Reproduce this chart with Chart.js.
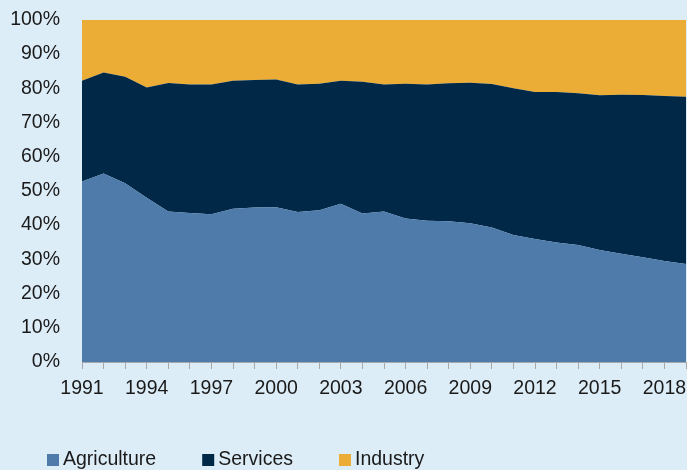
<!DOCTYPE html>
<html>
<head>
<meta charset="utf-8">
<script src="https://cdn.jsdelivr.net/npm/chart.js@4/dist/chart.umd.min.js"></script>
<style>
  html, body { margin: 0; padding: 0; background: #ddedf7; }
  #wrap { width: 687px; height: 470px; position: relative; }
</style>
</head>
<body>
<div id="wrap"><canvas id="c" width="687" height="470"></canvas></div>
<script>
const years = [1991,1992,1993,1994,1995,1996,1997,1998,1999,2000,2001,2002,2003,2004,2005,2006,2007,2008,2009,2010,2011,2012,2013,2014,2015,2016,2017,2018,2019];
const agriculture = [52.7,55.1,52.2,48.0,44.0,43.5,43.2,44.8,45.1,45.2,43.8,44.3,46.2,43.4,44.0,41.9,41.3,41.1,40.5,39.3,37.1,35.9,34.9,34.2,32.7,31.6,30.6,29.5,28.6];
const services = [29.5,29.5,31.1,32.2,37.5,37.6,37.9,37.4,37.3,37.3,37.3,37.0,36.0,38.5,37.1,39.4,39.8,40.3,41.1,41.9,42.9,43.0,44.0,44.3,45.2,46.5,47.4,48.2,48.9];
const industry = [17.8,15.4,16.7,19.8,18.5,18.9,18.9,17.8,17.6,17.5,18.9,18.7,17.8,18.1,18.9,18.7,18.9,18.6,18.4,18.8,20.0,21.1,21.1,21.5,22.1,21.9,22.0,22.3,22.5];
const yTicks = [0,10,20,30,40,50,60,70,80,90,100];

const FONT = { family: "'Liberation Sans', Arial, Helvetica, sans-serif", size: 19.5 };
const TEXT = '#1a1a1a';
const AXIS = '#a8a8a8';

const legendPlugin = {
  id: 'customLegend',
  afterDraw(chart) {
    const ctx = chart.ctx;
    ctx.save();
    ctx.font = FONT.size + 'px ' + FONT.family;
    ctx.textBaseline = 'middle';
    let x = 47;
    const yMid = 460;
    chart.data.datasets.forEach(ds => {
      ctx.fillStyle = ds.backgroundColor;
      ctx.fillRect(x, yMid - 6, 12, 12);
      ctx.fillStyle = TEXT;
      ctx.fillText(ds.label, x + 16, yMid);
      x += 16 + ctx.measureText(ds.label).width + 46;
    });
    ctx.restore();
  }
};

new Chart(document.getElementById('c'), {
  type: 'line',
  data: {
    labels: years.map(String),
    datasets: [
      { label: 'Agriculture', data: agriculture, backgroundColor: '#4f7bab', borderWidth: 0, pointRadius: 0, fill: 'origin' },
      { label: 'Services', data: services, backgroundColor: '#012846', borderWidth: 0, pointRadius: 0, fill: '-1' },
      { label: 'Industry', data: industry, backgroundColor: '#ebad35', borderWidth: 0, pointRadius: 0, fill: '-1' }
    ]
  },
  options: {
    responsive: false,
    animation: false,
    layout: { padding: { top: 0, right: 0, bottom: 68, left: 0 } },
    plugins: { legend: { display: false }, tooltip: { enabled: false } },
    elements: { line: { tension: 0 } },
    scales: {
      x: {
        offset: false,
        grid: { display: true, drawOnChartArea: false, drawTicks: true, tickLength: 14, tickBorderDash: [6, 30], color: AXIS },
        border: { display: true, color: AXIS, width: 1 },
        ticks: {
          autoSkip: false, maxRotation: 0, padding: 1, color: TEXT, font: FONT,
          callback: function(v, i) { return (years[i] - 1991) % 3 === 0 && years[i] !== 2019 ? String(years[i]) : ''; }
        },
        afterFit(s) { s.height = 40; }
      },
      y: {
        stacked: true, min: 0, max: 100,
        afterBuildTicks(s) { s.ticks = yTicks.map(v => ({ value: v })); },
        grid: { display: false, drawTicks: true, tickLength: 14 },
        border: { display: false },
        ticks: { padding: 8, color: TEXT, font: FONT, callback: v => v + '%' },
        afterFit(s) { s.width = 82; }
      }
    }
  },
  plugins: [legendPlugin]
});
</script>
</body>
</html>
